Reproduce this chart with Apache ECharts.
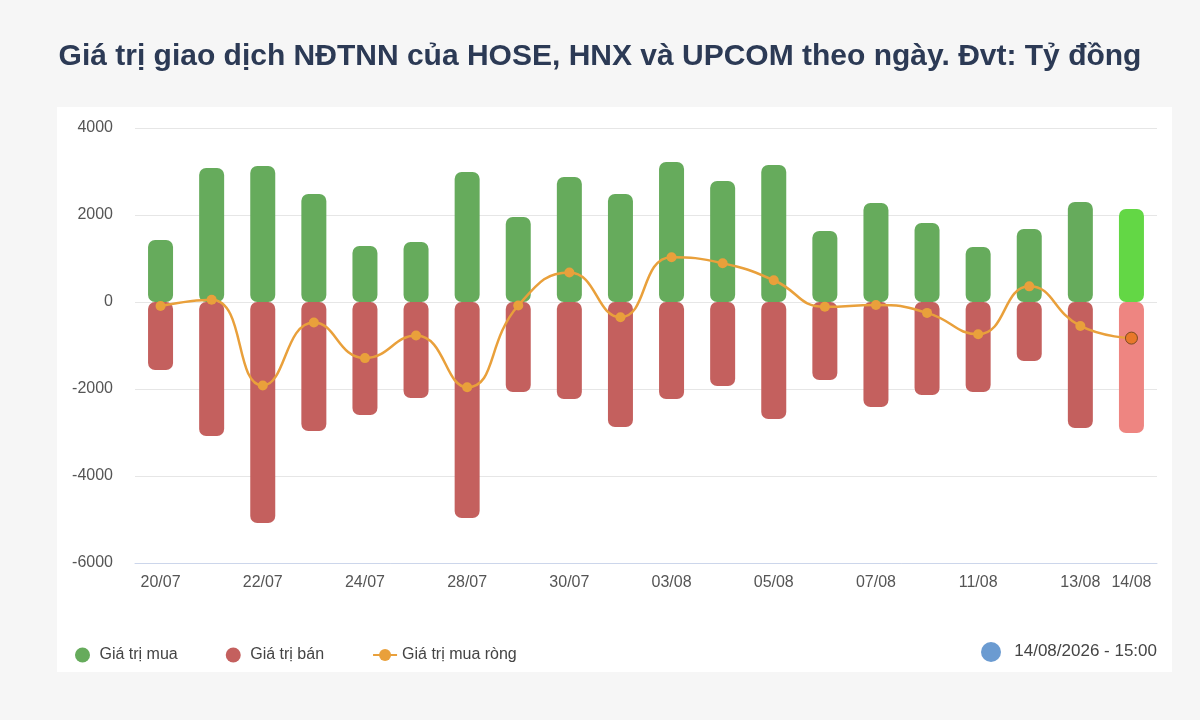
<!DOCTYPE html>
<html>
<head>
<meta charset="utf-8">
<script src="https://cdn.jsdelivr.net/npm/echarts@6/dist/echarts.min.js"></script>
<style>
  html, body { margin: 0; padding: 0; background: #f6f6f6; }
  #main { width: 1200px; height: 720px; }
</style>
</head>
<body>
<div id="main"></div>
<script>
var days = ['20/07','21/07','22/07','23/07','24/07','27/07','28/07','29/07','30/07','31/07',
            '03/08','04/08','05/08','06/08','07/08','10/08','11/08','12/08','13/08','14/08'];
var buyValues = [1425, 3080, 3126, 2483, 1287, 1380, 2989, 1954, 2874, 2483,
                 3218, 2782, 3149, 1632, 2276, 1816, 1264, 1678, 2299, 2138];
var sellValues = [-1563, -3080, -5080, -2966, -2598, -2207, -4966, -2069, -2230, -2874,
                  -2230, -1931, -2690, -1793, -2414, -2138, -2069, -1356, -2897, -3011];
var netValues = [-90, 50, -1920, -470, -1290, -770, -1960, -80, 680, -350,
                 1030, 890, 500, -110, -70, -250, -740, 360, -550, -830];
var yTicks = [-6000, -4000, -2000, 0, 2000, 4000];

var green = '#66ab5c', red = '#c4605e', orange = '#e9a03b';
var last = days.length - 1;
var font = 'Liberation Sans, Arial, sans-serif';
var radius = 7;

function barData(vals, hi){
	return vals.map(function(v, i){
		if(i == last) return {value: v, itemStyle: {color: hi}};
		return v;
	});
}
var netData = netValues.map(function(v, i){
	if(i == last) return {value: v, symbolSize: 12, itemStyle: {color: '#e8782a', borderColor: '#7a4a20', borderWidth: 1}};
	return v;
});

var chart = echarts.init(document.getElementById('main'));
chart.setOption({
	backgroundColor: '#f6f6f6',
	animation: false,
	textStyle: { fontFamily: font },
	title: {
		text: 'Giá trị giao dịch NĐTNN của HOSE, HNX và UPCOM theo ngày. Đvt: Tỷ đồng',
		left: 'center',
		top: 37,
		textStyle: { color: '#2c3a55', fontSize: 30, fontWeight: 'bold', fontFamily: font }
	},
	graphic: [
		{ type: 'rect', z: -10, shape: { x: 57, y: 107, width: 1115, height: 565 }, style: { fill: '#ffffff' } },
		{ type: 'circle', shape: { cx: 991, cy: 652, r: 10 }, style: { fill: '#6b9bd1' } },
		{ type: 'text', right: 43, top: 643, style: { text: '14/08/2026 - 15:00', fill: '#444', fontSize: 17, fontFamily: font } }
	],
	legend: {
		left: 70,
		top: 642,
		itemGap: 48,
		itemWidth: 24,
		itemHeight: 15,
		textStyle: { color: '#444', fontSize: 16 },
		data: [
			{ name: 'Giá trị mua', icon: 'circle', itemStyle: { color: green } },
			{ name: 'Giá trị bán', icon: 'circle', itemStyle: { color: red } },
			{ name: 'Giá trị mua ròng' }
		]
	},
	grid: { left: 135, right: 43, top: 128, bottom: 157 },
	xAxis: {
		type: 'category',
		data: days,
		axisLine: { onZero: false, lineStyle: { color: '#ccd6eb' } },
		axisTick: { show: false },
		axisLabel: {
			color: '#555', fontSize: 16, margin: 12,
			interval: function(i){ return i % 2 == 0 || i == last; }
		}
	},
	yAxis: {
		type: 'value',
		min: yTicks[0],
		max: yTicks[yTicks.length - 1],
		interval: 2000,
		axisLabel: { color: '#555', fontSize: 16, margin: 22, formatter: function(v){ return String(v); } },
		splitLine: { lineStyle: { color: '#e6e6e6' } }
	},
	series: [
		{
			name: 'Giá trị mua', type: 'bar', barWidth: 25, barGap: '-100%',
			itemStyle: { color: green, borderRadius: radius },
			data: barData(buyValues, '#63d745')
		},
		{
			name: 'Giá trị bán', type: 'bar', barWidth: 25,
			itemStyle: { color: red, borderRadius: radius },
			data: barData(sellValues, '#ee8581')
		},
		{
			name: 'Giá trị mua ròng', type: 'line', smooth: true,
			symbol: 'circle', symbolSize: 10,
			lineStyle: { color: orange, width: 2.5 },
			itemStyle: { color: orange },
			data: netData
		}
	]
});
</script>
</body>
</html>
